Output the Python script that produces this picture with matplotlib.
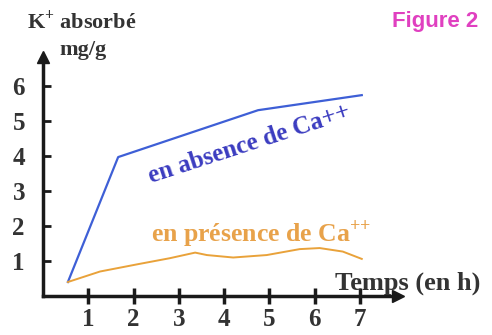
import matplotlib
matplotlib.use("Agg")
import matplotlib.pyplot as plt

# data
t_absence = [0.55, 1.66, 4.75, 7.04]
k_absence = [0.40, 3.97, 5.31, 5.74]

t_presence = [0.55, 1.26, 2.1, 2.8, 3.36, 3.62, 4.2, 4.94, 5.67, 6.11, 6.62, 7.04]
k_presence = [0.40, 0.70, 0.91, 1.08, 1.24, 1.17, 1.10, 1.17, 1.34, 1.37, 1.27, 1.06]

x_ticks = [1, 2, 3, 4, 5, 6, 7]
y_ticks = [1, 2, 3, 4, 5, 6]

plt.rcParams["mathtext.fontset"] = "custom"
plt.rcParams["mathtext.rm"] = "Liberation Serif"
plt.rcParams["mathtext.bf"] = "Liberation Serif:bold"

W, H = 492, 335
fig = plt.figure(figsize=(W / 100, H / 100), dpi=100)
ax = fig.add_axes([43 / W, 39 / H, (398 - 43) / W, (296 - 57) / H])
ax.set_xlim(0, 7.84)
ax.set_ylim(0, 6.83)

serif = "Liberation Serif"
dark = "#333333"

for s in ["top", "right"]:
    ax.spines[s].set_visible(False)
for s in ["left", "bottom"]:
    ax.spines[s].set_linewidth(2.5)
    ax.spines[s].set_color("#1a1a1a")

# arrow heads
ax.plot(1, 0, ">", color="#1a1a1a", markersize=9, transform=ax.transAxes, clip_on=False)
ax.plot(0, 1, "^", color="#1a1a1a", markersize=9, transform=ax.transAxes, clip_on=False)

ax.set_xticks(x_ticks)
ax.set_yticks(y_ticks)
ax.tick_params(axis="x", direction="inout", length=12, width=2.5, color="#1a1a1a", pad=3)
ax.tick_params(axis="y", direction="in", length=6, width=2, color="#1a1a1a", pad=13)
for lab in ax.get_xticklabels() + ax.get_yticklabels():
    lab.set_fontfamily(serif)
    lab.set_fontweight("bold")
    lab.set_fontsize(18)
    lab.set_color(dark)

ax.plot(t_absence, k_absence, color="#3e5fd6", linewidth=1.6, clip_on=False)
ax.plot(t_presence, k_presence, color="#e9a23a", linewidth=1.4, clip_on=False)

ax.text(4.55, 4.35, "en absence de Ca++", rotation=18, color="#3b3cc0", fontfamily=serif,
        fontweight="bold", fontsize=18, ha="center", va="center", rotation_mode="anchor")
ax.text(4.82, 1.8, r"en présence de Ca$^{\mathbf{{+}{+}}}$", color="#e8a24a", fontfamily=serif,
        fontweight="bold", fontsize=18.5, ha="center", va="center")
ax.text(8.06, 0.37, "Temps (en h)", color=dark, fontfamily=serif, fontweight="bold",
        fontsize=19, ha="center", va="center", clip_on=False)

fig.text(82 / W, 1 - 21 / H, r"K$^{\mathbf{+}}$ absorbé", color=dark, fontfamily=serif,
         fontweight="bold", fontsize=16, ha="center", va="center")
fig.text(83 / W, 1 - 50 / H, "mg/g", color=dark, fontfamily=serif,
         fontweight="bold", fontsize=16, ha="center", va="center")
fig.text(435 / W, 1 - 22 / H, "Figure 2", color="#e040c0", fontfamily="Liberation Sans",
         fontweight="bold", fontsize=16, ha="center", va="center")

fig.savefig("out.png", dpi=100)
